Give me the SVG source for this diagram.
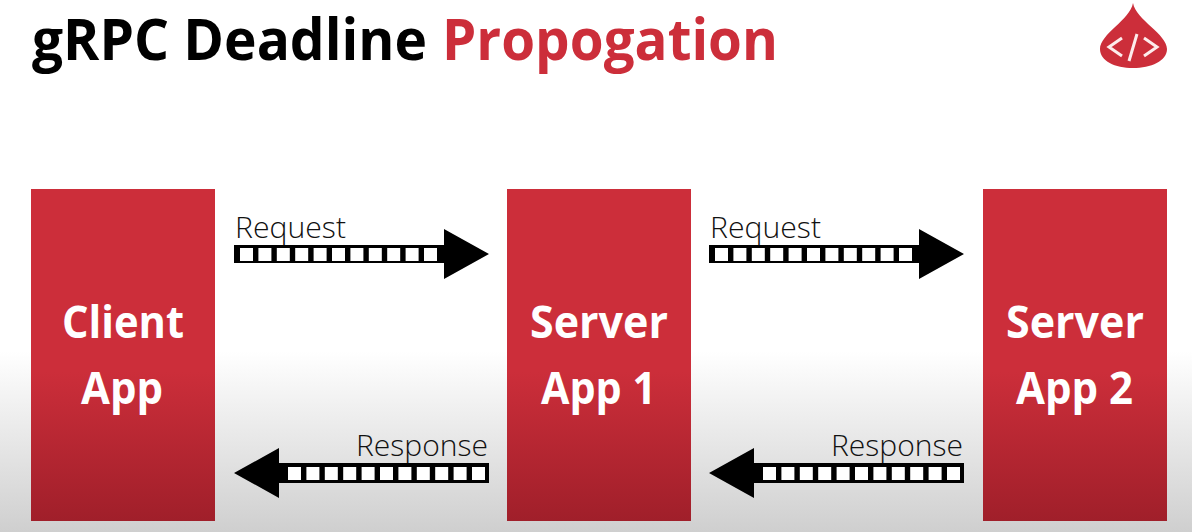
<svg xmlns="http://www.w3.org/2000/svg" width="1192" height="532" viewBox="0 0 1192 532">
<style>
.title{font-family:"Open Sans","Noto Sans","Liberation Sans",sans-serif;font-size:58px;font-weight:700}
.box{font-family:"Open Sans","Noto Sans","Liberation Sans",sans-serif;font-size:45px;font-weight:700;fill:#fff}
.lbl{font-family:"Open Sans","Noto Sans","Liberation Sans",sans-serif;font-size:29px;font-weight:300;fill:#111}
.sq{fill:#fff}
</style>
<defs>
<linearGradient id="bg" x1="0" y1="0" x2="0" y2="1"><stop offset="0.66" stop-color="#fff"/><stop offset="1" stop-color="#cfcfcf"/></linearGradient>
<linearGradient id="red" gradientUnits="userSpaceOnUse" x1="0" y1="189" x2="0" y2="521"><stop offset="0" stop-color="#cc2e3a"/><stop offset="0.55" stop-color="#cc2e3a"/><stop offset="1" stop-color="#a01f2a"/></linearGradient>
<g id="squares">
<rect class="sq" width="13" height="13"/><rect class="sq" x="18.4" width="13" height="13"/><rect class="sq" x="36.8" width="13" height="13"/><rect class="sq" x="55.2" width="13" height="13"/><rect class="sq" x="73.6" width="13" height="13"/><rect class="sq" x="92" width="13" height="13"/><rect class="sq" x="110.4" width="13" height="13"/><rect class="sq" x="128.8" width="13" height="13"/><rect class="sq" x="147.2" width="13" height="13"/><rect class="sq" x="165.6" width="13" height="13"/><rect class="sq" x="184" width="13" height="13"/>
</g>
<g id="arrow-r"><path d="M234 245H444V229L489 254L444 279V263H234Z"/><use href="#squares" x="240" y="248"/></g>
<g id="arrow-l"><path d="M489 463H279V448L234 473L279 498V483H489Z"/><use href="#squares" x="288" y="467"/></g>
</defs>
<rect width="1192" height="532" fill="url(#bg)"/>
<text class="title" y="60"><tspan x="32" fill="#000" textLength="395" lengthAdjust="spacingAndGlyphs">gRPC Deadline</tspan></text>
<text class="title" y="60"><tspan x="442" fill="#cc2e3a" textLength="336" lengthAdjust="spacingAndGlyphs">Propogation</tspan></text>
<g id="logo">
<path d="M1133 3C1136 20 1167 34 1167 49C1167 61 1151 68 1133 68C1115 68 1100 61 1100 49C1100 34 1130 20 1133 3Z" fill="#cc2e3a"/>
<path d="M1122 38L1109 47L1122 56M1144 38L1157 47L1144 56M1137 34L1129 61" fill="none" stroke="#fdecec" stroke-width="3"/>
</g>
<g id="client-app"><rect x="31" y="189" width="184" height="332" fill="url(#red)"/>
<text class="box" x="123" y="338" text-anchor="middle" textLength="122" lengthAdjust="spacingAndGlyphs">Client</text><text class="box" x="122" y="404" text-anchor="middle" textLength="82" lengthAdjust="spacingAndGlyphs">App</text></g>
<g id="server-app-1"><rect x="507" y="189" width="184" height="332" fill="url(#red)"/>
<text class="box" x="599" y="338" text-anchor="middle" textLength="138" lengthAdjust="spacingAndGlyphs">Server</text><text class="box" x="598.500" y="404" text-anchor="middle" textLength="115" lengthAdjust="spacingAndGlyphs">App 1</text></g>
<g id="server-app-2"><rect x="983" y="189" width="184" height="332" fill="url(#red)"/>
<text class="box" x="1075" y="338" text-anchor="middle" textLength="138" lengthAdjust="spacingAndGlyphs">Server</text><text class="box" x="1074.500" y="404" text-anchor="middle" textLength="117" lengthAdjust="spacingAndGlyphs">App 2</text></g>
<g id="connectors">
<use href="#arrow-r"/><use href="#arrow-r" x="475"/><use href="#arrow-l"/><use href="#arrow-l" x="475"/>
<text class="lbl" x="235" y="238" textLength="111" lengthAdjust="spacingAndGlyphs">Request</text>
<text class="lbl" x="710" y="238" textLength="111" lengthAdjust="spacingAndGlyphs">Request</text>
<text class="lbl" x="356" y="456" textLength="132" lengthAdjust="spacingAndGlyphs">Response</text>
<text class="lbl" x="831" y="456" textLength="132" lengthAdjust="spacingAndGlyphs">Response</text>
</g>
</svg>
